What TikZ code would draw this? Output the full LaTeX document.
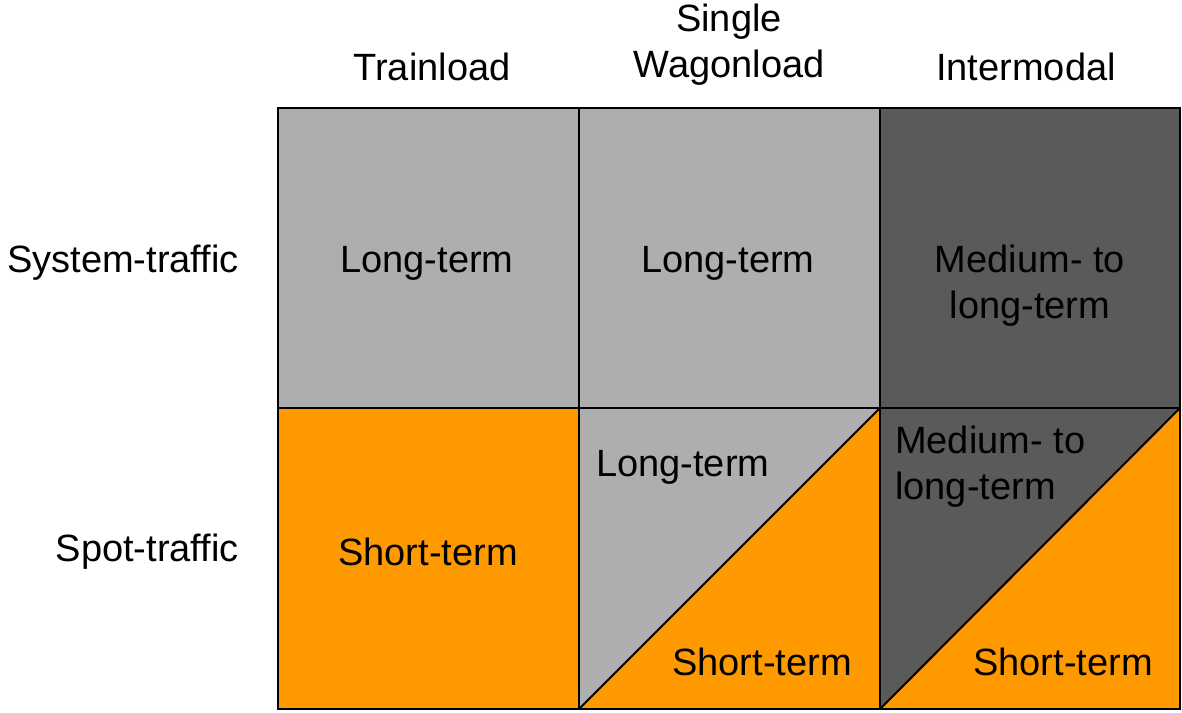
\documentclass[tikz,border=0pt]{standalone}
\usepackage{fontspec}
\setmainfont{Liberation Sans}
\begin{document}
\begin{tikzpicture}[x=1pt,y=-1pt,
  lbl/.style={font=\fontsize{38}{46}\selectfont, inner sep=0pt},
  cellline/.style={draw=black, line width=2pt}]
\definecolor{lgray}{HTML}{AEAEAE}
\definecolor{dgray}{HTML}{5A5A5A}
\definecolor{orng}{HTML}{FF9900}
\useasboundingbox (0,0) rectangle (1182,712);
% corners
\coordinate (A) at (278,108);
\coordinate (B) at (579,108);
\coordinate (C) at (880,108);
\coordinate (D) at (1180,108);
\coordinate (E) at (278,408);
\coordinate (F) at (579,408);
\coordinate (G) at (880,408);
\coordinate (H) at (1180,408);
\coordinate (I) at (278,709);
\coordinate (J) at (579,709);
\coordinate (K) at (880,709);
\coordinate (L) at (1180,709);
% fills
\fill[lgray] (A) rectangle (F);
\fill[lgray] (B) rectangle (G);
\fill[dgray] (C) rectangle (H);
\fill[orng] (E) rectangle (J);
\fill[lgray] (F) -- (G) -- (J) -- cycle;
\fill[orng] (G) -- (K) -- (J) -- cycle;
\fill[dgray] (G) -- (H) -- (K) -- cycle;
\fill[orng] (H) -- (L) -- (K) -- cycle;
% lines
\draw[cellline] (A) rectangle (L);
\draw[cellline] (B) -- (J);
\draw[cellline] (C) -- (K);
\draw[cellline] (E) -- (H);
\draw[cellline] (J) -- (G);
\draw[cellline] (K) -- (H);
% headers
\node[lbl] (h1) at (432,67) {Trainload};
\node[lbl, align=center] (h2) at (729,45) {Single\\Wagonload};
\node[lbl] (h3) at (1026,67) {Intermodal};
\node[lbl, anchor=east] (r1) at (239,263) {System-traffic};
\node[lbl, anchor=east] (r2) at (239,552) {Spot-traffic};
% cells
\node[lbl] (c11) at (427,263) {Long-term};
\node[lbl] (c12) at (728,263) {Long-term};
\node[lbl, align=center] (c13) at (1030,286) {Medium- to\\long-term};
\node[lbl] (c21) at (428,552) {Short-term};
\node[lbl, anchor=west] (c22a) at (596,467) {Long-term};
\node[lbl] (c22b) at (762,662) {Short-term};
\node[lbl, align=left, anchor=west] (c23a) at (895,467) {Medium- to\\long-term};
\node[lbl] (c23b) at (1063,662) {Short-term};
\end{tikzpicture}
\end{document}
